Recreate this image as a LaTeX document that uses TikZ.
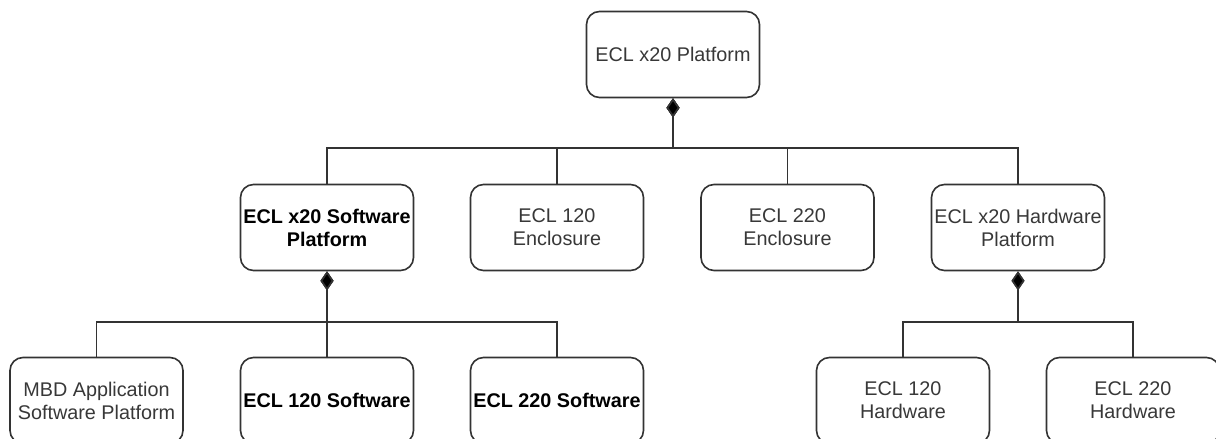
\documentclass[tikz,border=0pt]{standalone}
\usepackage{fontspec}
\setmainfont{Liberation Sans}
\usetikzlibrary{arrows.meta}
\definecolor{edge}{HTML}{333333}
\definecolor{txt}{HTML}{383838}
\tikzset{
  block/.style={draw=edge, line width=1.6pt, rounded corners=13pt, fill=white,
    minimum width=173pt, minimum height=86pt, inner sep=0pt, align=center,
    text=txt, font=\fontsize{19.8}{23}\selectfont},
  strong/.style={block, text=black, font=\fontsize{19.8}{23}\selectfont\bfseries},
  link/.style={draw=edge, line width=1.6pt},
  comp/.style={link, {Diamond[length=19pt,width=13pt,fill=black]}-}
}
\begin{document}
\begin{tikzpicture}[x=1pt,y=-1pt]
\useasboundingbox (0,0) rectangle (1216,439);
\clip (0,0) rectangle (1216,439);
\fill[white] (0,0) rectangle (1216,439);

% bus levels
\coordinate (busTop) at (0,148);
\coordinate (busMid) at (0,322);

% top level
\node[block] (plat) at (673,54.5) {ECL x20 Platform};

% second level
\node[strong] (sw)   at (327,227.5) {ECL x20 Software\\Platform};
\node[block]  (enc1) at (557,227.5) {ECL 120\\Enclosure};
\node[block]  (enc2) at (787.5,227.5) {ECL 220\\Enclosure};
\node[block]  (hw)   at (1018,227.5) {ECL x20 Hardware\\Platform};

% third level
\node[block]  (mbd)  at (96.5,400.5) {MBD Application\\Software Platform};
\node[strong] (sw1)  at (327,400.5) {ECL 120 Software};
\node[strong] (sw2)  at (557,400.5) {ECL 220 Software};
\node[block]  (hw1)  at (903,400.5) {ECL 120\\Hardware};
\node[block]  (hw2)  at (1133,400.5) {ECL 220\\Hardware};

% composition links
\foreach \c in {sw,enc1,enc2,hw}
  \draw[comp] (plat.south) -- (plat.south |- busTop) -| (\c.north);
\foreach \c in {mbd,sw1,sw2}
  \draw[comp] (sw.south) -- (sw.south |- busMid) -| (\c.north);
\foreach \c in {hw1,hw2}
  \draw[comp] (hw.south) -- (hw.south |- busMid) -| (\c.north);
\end{tikzpicture}
\end{document}
